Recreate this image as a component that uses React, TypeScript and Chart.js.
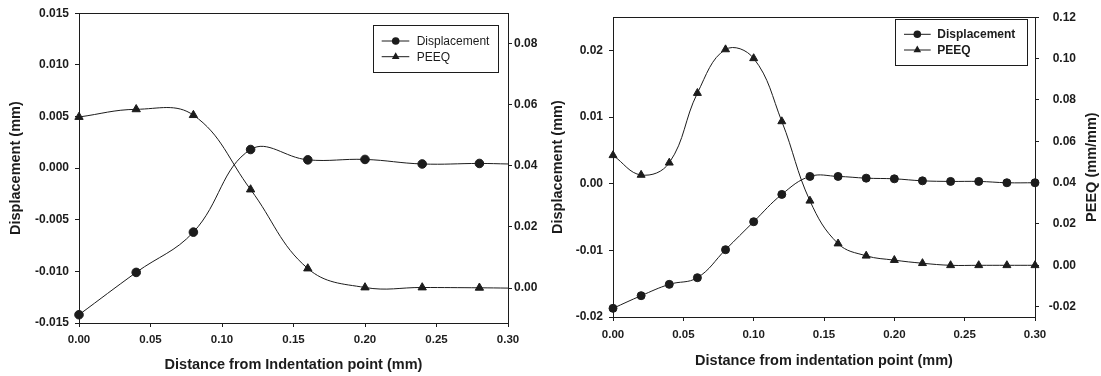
import React, { useEffect, useRef } from 'react';
import { Chart, registerables } from 'chart.js';

Chart.register(...registerables);

const FONT = '"Liberation Sans", Arial, Helvetica, sans-serif';
const INK = '#1c1c1c';
const H = 376;

// ---------- Left panel data ----------
const leftDistance = [0, 0.04, 0.08, 0.12, 0.16, 0.2, 0.24, 0.28, 0.3];
const leftDisplacement = [-0.0142, -0.0101, -0.0062, 0.0018, 0.0008, 0.00084, 0.0004, 0.00045, 0.0004];
const leftPEEQ = [0.0559, 0.0584, 0.0565, 0.0322, 0.0064, 0.0002, 0.0002, 0.0001, 0.0];
const leftMarked = [1, 1, 1, 1, 1, 1, 1, 1, 0];

// ---------- Right panel data ----------
const rightDistance = [0, 0.02, 0.04, 0.06, 0.08, 0.1, 0.12, 0.14, 0.16, 0.18, 0.2, 0.22, 0.24, 0.26, 0.28, 0.3];
const rightDisplacement = [-0.0187, -0.0168, -0.0151, -0.0141, -0.0099, -0.0057, -0.0016, 0.0011, 0.0011, 0.00084, 0.00074, 0.00044, 0.00035, 0.00035, 0.00015, 0.00015];
const rightPEEQ = [0.0532, 0.0437, 0.0496, 0.0833, 0.1044, 0.1001, 0.0696, 0.0312, 0.0105, 0.0046, 0.0025, 0.001, 0, 0, 0, 0];
const rightMarked = rightDistance.map(() => 1);

// ---------- Ticks & labels ----------
const xTicks = [0, 0.05, 0.1, 0.15, 0.2, 0.25, 0.3];
const leftDispTicks = [-0.015, -0.01, -0.005, 0, 0.005, 0.01, 0.015];
const leftPeeqTicks = [0, 0.02, 0.04, 0.06, 0.08];
const rightDispTicks = [-0.02, -0.01, 0, 0.01, 0.02];
const rightPeeqTicks = [-0.02, 0, 0.02, 0.04, 0.06, 0.08, 0.1, 0.12];
const seriesNames = ['Displacement', 'PEEQ'];
const leftXTitle = 'Distance from Indentation point (mm)';
const rightXTitle = 'Distance from indentation point (mm)';
const dispTitle = 'Displacement (mm)';
const peeqTitle = 'PEEQ (mm/mm)';

function drawMarker(ctx: CanvasRenderingContext2D, style: string, x: number, y: number, r: number) {
  ctx.beginPath();
  if (style === 'circle') {
    ctx.arc(x, y, r, 0, Math.PI * 2);
  } else {
    let rad = 0;
    for (let i = 0; i < 3; i++) {
      const px = x + Math.sin(rad) * r;
      const py = y - Math.cos(rad) * r;
      if (i === 0) ctx.moveTo(px, py);
      else ctx.lineTo(px, py);
      rad += (2 * Math.PI) / 3;
    }
    ctx.closePath();
  }
  ctx.fill();
}

function makeDecor(p: any) {
  return {
    id: 'decor',
    afterDraw(chart: any) {
      const ctx: CanvasRenderingContext2D = chart.ctx;
      const a = chart.chartArea;
      ctx.save();
      ctx.strokeStyle = INK;
      ctx.fillStyle = INK;
      ctx.lineWidth = 1;
      ctx.strokeRect(Math.round(a.left) + 0.5, Math.round(a.top) + 0.5, Math.round(a.right - a.left), Math.round(a.bottom - a.top));
      // legend
      const L = p.legend;
      ctx.fillStyle = '#ffffff';
      ctx.fillRect(L.x, L.y, L.w, L.h);
      ctx.strokeRect(L.x + 0.5, L.y + 0.5, L.w, L.h);
      ctx.fillStyle = INK;
      const styles = ['circle', 'triangle'];
      seriesNames.forEach((name, i) => {
        const y = L.rows[i];
        ctx.beginPath();
        ctx.moveTo(L.line[0], y);
        ctx.lineTo(L.line[1], y);
        ctx.stroke();
        drawMarker(ctx, styles[i], L.marker, y, i === 0 ? 3.8 : 4.4);
        ctx.font = `${L.weight} 12px ${FONT}`;
        ctx.textAlign = 'left';
        ctx.textBaseline = 'middle';
        ctx.fillText(name, L.text, y + 0.5);
      });
      // right-side rotated title
      if (p.rightTitle) {
        ctx.save();
        ctx.translate(p.rightTitle.x, (a.top + a.bottom) / 2);
        ctx.rotate(-Math.PI / 2);
        ctx.font = `bold 14.5px ${FONT}`;
        ctx.textAlign = 'center';
        ctx.textBaseline = 'middle';
        ctx.fillText(p.rightTitle.text, 0, 0);
        ctx.restore();
      }
      ctx.restore();
    },
  };
}

function yScale(o: any) {
  return {
    type: 'linear',
    position: o.position,
    min: o.min,
    max: o.max,
    afterBuildTicks: (ax: any) => {
      ax.ticks = o.ticks.map((v: number) => ({ value: v }));
    },
    afterFit: (ax: any) => {
      ax.width = o.width;
    },
    ticks: {
      autoSkip: false,
      padding: o.pad,
      color: INK,
      crossAlign: o.crossAlign || 'near',
      font: { family: FONT, size: 12, weight: 'bold' },
      callback: (v: any) => Number(v).toFixed(o.decimals),
    },
    grid: { drawOnChartArea: false, drawTicks: true, tickLength: 4, tickColor: INK, tickWidth: 1, color: INK },
    border: { display: false },
    title: o.title
      ? {
          display: true,
          text: o.title,
          color: INK,
          font: { family: FONT, size: 14.5, weight: 'bold' },
          padding: { top: o.titlePad, bottom: 0 },
        }
      : { display: false },
  };
}

function buildConfig(p: any) {
  const ds = (label: string, ys: number[], axis: string, style: string, r: number) => ({
    label,
    yAxisID: axis,
    xAxisID: 'x',
    data: p.xs.map((x: number, i: number) => ({ x, y: ys[i] })),
    borderColor: INK,
    backgroundColor: INK,
    borderWidth: 1,
    pointStyle: style,
    pointRadius: p.marked.map((m: number) => (m ? r : 0)),
    pointHoverRadius: p.marked.map((m: number) => (m ? r : 0)),
    pointBorderWidth: 1,
    pointBorderColor: INK,
    pointBackgroundColor: INK,
    tension: 0.4,
    fill: false,
    clip: false,
  });
  return {
    type: 'line',
    data: {
      datasets: [
        ds(seriesNames[0], p.disp, 'yL', 'circle', p.circleR),
        ds(seriesNames[1], p.peeq, 'yR', 'triangle', p.triR),
      ],
    },
    options: {
      responsive: false,
      animation: false,
      devicePixelRatio: 1,
      layout: { padding: { top: p.area.t, left: 0, right: p.padRight, bottom: 0 } },
      plugins: { legend: { display: false }, tooltip: { enabled: false } },
      events: [],
      scales: {
        x: {
          type: 'linear',
          min: 0,
          max: 0.3,
          afterBuildTicks: (ax: any) => {
            ax.ticks = xTicks.map((v) => ({ value: v }));
          },
          afterFit: (ax: any) => {
            ax.height = H - p.area.b;
          },
          ticks: {
            autoSkip: false,
            maxRotation: 0,
            padding: p.xTickPad,
            color: INK,
            font: { family: FONT, size: 11.5, weight: 'bold' },
            callback: (v: any) => Number(v).toFixed(2),
          },
          grid: { drawOnChartArea: false, drawTicks: true, tickLength: 4, tickColor: INK, color: INK },
          border: { display: false },
          title: {
            display: true,
            text: p.xTitle,
            color: INK,
            font: { family: FONT, size: 14.5, weight: 'bold' },
            padding: { top: 0, bottom: p.xTitlePad },
          },
        },
        yL: yScale(p.yL),
        yR: yScale(p.yR),
      },
    },
    plugins: [makeDecor(p)],
  };
}

const leftPanel = {
  xs: leftDistance,
  disp: leftDisplacement,
  peeq: leftPEEQ,
  marked: leftMarked,
  circleR: 4.3,
  triR: 4.8,
  area: { t: 13, b: 323 },
  padRight: 0,
  xTickPad: 6,
  xTitle: leftXTitle,
  xTitlePad: 2,
  yL: { position: 'left', min: -0.015, max: 0.015, ticks: leftDispTicks, decimals: 3, width: 79, pad: 6, title: dispTitle, titlePad: 7.5 },
  yR: { position: 'right', min: -0.0114, max: 0.0898, ticks: leftPeeqTicks, decimals: 2, width: 32, pad: 2 },
  legend: { x: 373, y: 25, w: 125, h: 47, rows: [41, 56.7], line: [381.7, 409.3], marker: 395.7, text: 416.7, weight: 'normal' },
};

const rightPanel = {
  xs: rightDistance,
  disp: rightDisplacement,
  peeq: rightPEEQ,
  marked: rightMarked,
  circleR: 4,
  triR: 4.6,
  area: { t: 12, b: 317 },
  padRight: 25,
  xTickPad: 6.5,
  xTitle: rightXTitle,
  xTitlePad: 6.5,
  yL: { position: 'left', min: -0.02, max: 0.025, ticks: rightDispTicks, decimals: 2, width: 73, pad: 6, title: dispTitle, titlePad: 8.8 },
  yR: { position: 'right', min: -0.025, max: 0.12, ticks: rightPeeqTicks, decimals: 2, width: 41, pad: 10, crossAlign: 'far' },
  legend: { x: 355, y: 19, w: 132, h: 46, rows: [34.3, 50], line: [364, 390.7], marker: 377.3, text: 397.3, weight: 'bold' },
  rightTitle: { x: 551.7, text: peeqTitle },
};

function Panel({ spec, left, width }: { spec: any; left: number; width: number }) {
  const ref = useRef<HTMLCanvasElement>(null);
  useEffect(() => {
    const chart = new Chart(ref.current as HTMLCanvasElement, buildConfig(spec) as any);
    return () => chart.destroy();
  }, [spec]);
  return (
    <canvas
      ref={ref}
      width={width}
      height={H}
      style={{ position: 'absolute', left, top: 0, width, height: H, display: 'block' }}
    />
  );
}

export default function App() {
  return (
    <div style={{ position: 'fixed', left: 0, top: 0, width: 1101, height: H, background: '#ffffff', overflow: 'hidden' }}>
      <Panel spec={leftPanel} left={0} width={540} />
      <Panel spec={rightPanel} left={540} width={561} />
    </div>
  );
}
